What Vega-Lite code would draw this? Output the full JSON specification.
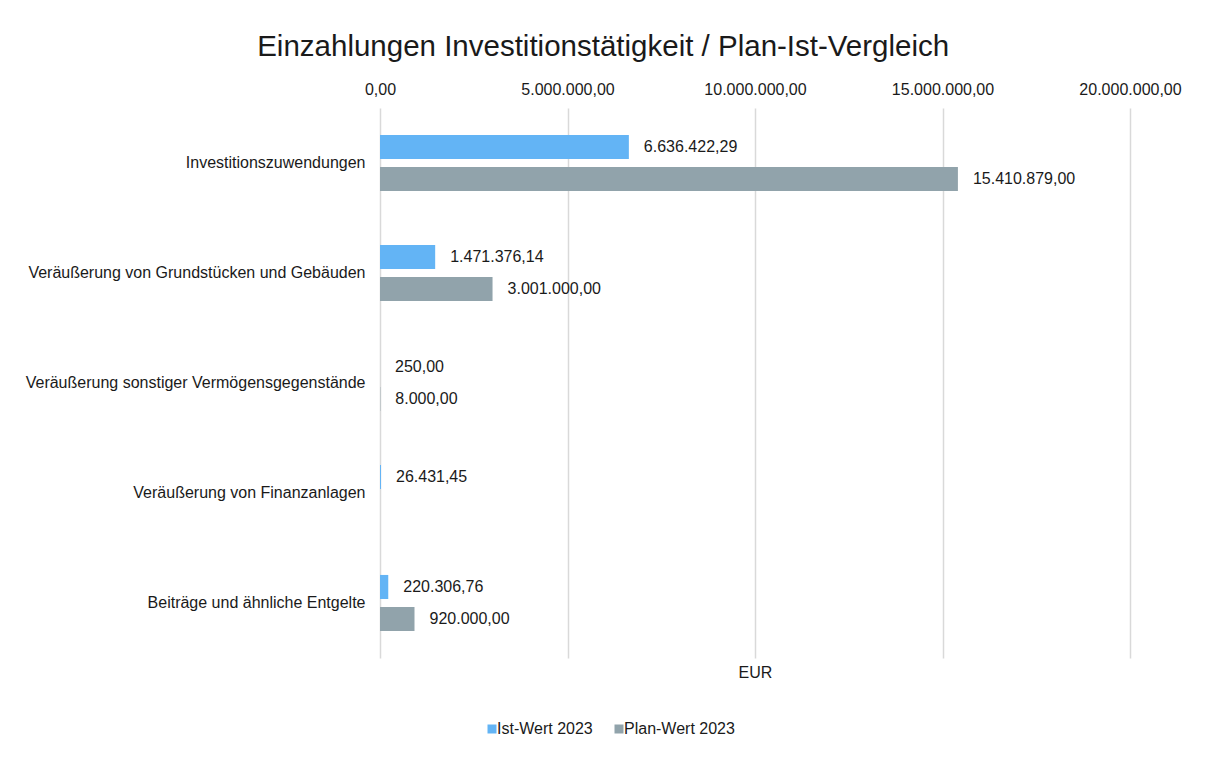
{
  "$schema": "https://vega.github.io/schema/vega-lite/v6.json",
  "autosize": "none",
  "width": 750,
  "height": 550,
  "padding": {"left": 380, "top": 108, "right": 76, "bottom": 102},
  "background": "white",
  "title": {
    "text": "Einzahlungen Investitionstätigkeit / Plan-Ist-Vergleich",
    "frame": "bounds",
    "anchor": "middle",
    "fontSize": 29.5,
    "fontWeight": "normal",
    "color": "#1a1a1a",
    "offset": 19
  },
  "config": {
    "font": "Liberation Sans",
    "view": {"stroke": null},
    "locale": {
      "number": {"decimal": ",", "thousands": ".", "grouping": [3], "currency": ["", " €"]}
    }
  },
  "data": {
    "values": [
      {"kategorie": "Investitionszuwendungen", "serie": "Ist-Wert 2023", "wert": 6636422.29},
      {"kategorie": "Investitionszuwendungen", "serie": "Plan-Wert 2023", "wert": 15410879.00},
      {"kategorie": "Veräußerung von Grundstücken und Gebäuden", "serie": "Ist-Wert 2023", "wert": 1471376.14},
      {"kategorie": "Veräußerung von Grundstücken und Gebäuden", "serie": "Plan-Wert 2023", "wert": 3001000.00},
      {"kategorie": "Veräußerung sonstiger Vermögensgegenstände", "serie": "Ist-Wert 2023", "wert": 250.00},
      {"kategorie": "Veräußerung sonstiger Vermögensgegenstände", "serie": "Plan-Wert 2023", "wert": 8000.00},
      {"kategorie": "Veräußerung von Finanzanlagen", "serie": "Ist-Wert 2023", "wert": 26431.45},
      {"kategorie": "Beiträge und ähnliche Entgelte", "serie": "Ist-Wert 2023", "wert": 220306.76},
      {"kategorie": "Beiträge und ähnliche Entgelte", "serie": "Plan-Wert 2023", "wert": 920000.00}
    ]
  },
  "encoding": {
    "y": {
      "field": "kategorie",
      "type": "nominal",
      "sort": null,
      "scale": {"paddingInner": 0.49, "paddingOuter": 0.245},
      "axis": {
        "title": null,
        "ticks": false,
        "domain": false,
        "labelPadding": 15,
        "labelFontSize": 16,
        "labelColor": "#1a1a1a",
        "labelLimit": 400
      }
    },
    "yOffset": {
      "field": "serie",
      "type": "nominal",
      "sort": ["Ist-Wert 2023", "Plan-Wert 2023"],
      "scale": {"paddingInner": 0.25, "paddingOuter": 0}
    }
  },
  "layer": [
    {
      "mark": {"type": "bar"},
      "encoding": {
        "x": {
          "field": "wert",
          "type": "quantitative",
          "scale": {"domain": [0, 20000000], "nice": false},
          "axis": {
            "orient": "top",
            "title": null,
            "values": [0, 5000000, 10000000, 15000000, 20000000],
            "format": ",.2f",
            "grid": true,
            "gridColor": "#d9d9d9",
            "gridWidth": 1.5,
            "ticks": false,
            "domain": false,
            "labelFontSize": 16,
            "labelColor": "#1a1a1a",
            "labelPadding": 11,
            "labelFlush": false
          }
        },
        "color": {
          "field": "serie",
          "type": "nominal",
          "scale": {"domain": ["Ist-Wert 2023", "Plan-Wert 2023"], "range": ["#63b4f5", "#91a3ab"]},
          "legend": {
            "title": null,
            "orient": "none",
            "direction": "horizontal",
            "legendX": 104,
            "legendY": 613,
            "symbolType": "square",
            "symbolSize": 81,
            "symbolStrokeWidth": 0,
            "labelFontSize": 16,
            "labelColor": "#1a1a1a",
            "labelOffset": -3,
            "columnPadding": 18
          }
        }
      }
    },
    {
      "mark": {"type": "text", "align": "left", "baseline": "middle", "dx": 15, "fontSize": 16, "color": "#1a1a1a"},
      "encoding": {
        "x": {
          "field": "wert",
          "type": "quantitative",
          "axis": {
            "orient": "bottom",
            "title": "EUR",
            "titleFontSize": 16,
            "titleFontWeight": "normal",
            "titleColor": "#1a1a1a",
            "titlePadding": 6,
            "labels": false,
            "ticks": false,
            "domain": false,
            "grid": false
          }
        },
        "text": {"field": "wert", "type": "quantitative", "format": ",.2f"}
      }
    }
  ],
  "resolve": {"axis": {"x": "independent"}}
}
